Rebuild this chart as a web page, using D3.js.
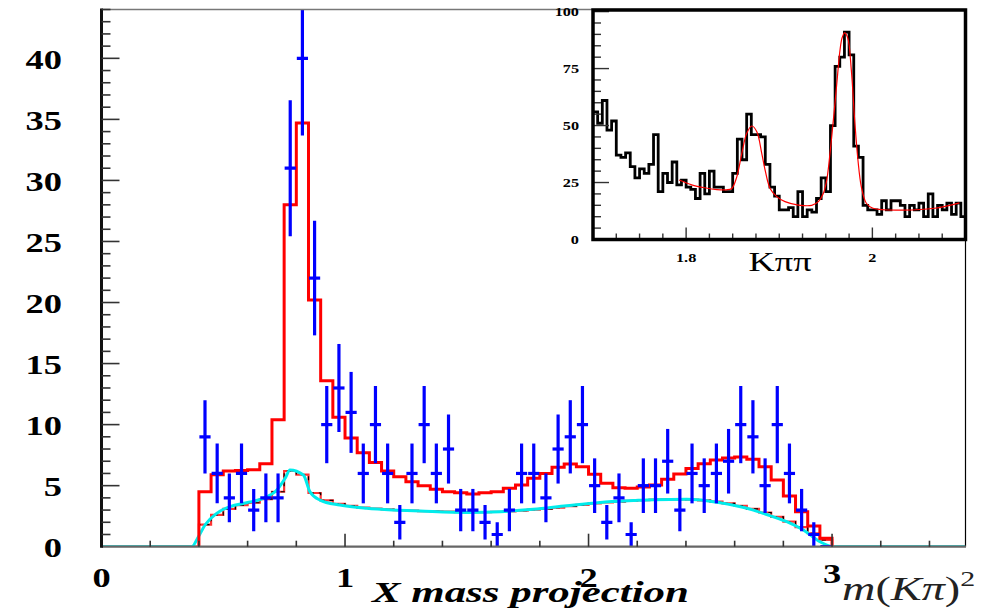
<!DOCTYPE html>
<html>
<head>
<meta charset="utf-8">
<script src="https://cdnjs.cloudflare.com/ajax/libs/d3/7.8.5/d3.min.js"></script>
<style>
  body { margin: 0; background: #fff; }
  svg { display: block; }
</style>
</head>
<body>
<script>
// --- main projection: 0.05-wide bins starting at 0.40 ---
var binStart = 0.40, binWidth = 0.05;

// measured entries per bin
var dataCounts = [9, 6, 4, 6, 3, 4, 4, 31, 40, 22,
                  10, 13, 11, 6, 10, 6, 2, 6, 10, 6,
                  8, 3, 3, 2, 1, 3, 6, 6, 4, 8,
                  9, 10, 5, 2, 4, 1, 5, 5, 7, 3,
                  6, 5, 6, 7, 10, 9, 5, 10, 6, 3,
                  1, 0];

// total fit, histogrammed in the same bins
var fitTotal = [4.5, 5.9, 6.2, 6.25, 6.3, 6.8, 10.4, 28.0, 34.7, 20.2,
                13.6, 10.6, 8.9, 7.7, 6.9, 6.2, 5.73, 5.32, 5.0, 4.7,
                4.5, 4.42, 4.32, 4.42, 4.5, 4.78, 5.05, 5.6, 6.0, 6.5,
                6.77, 6.55, 5.93, 5.19, 4.83, 4.78, 4.9, 5.05, 5.52, 5.95,
                6.4, 6.8, 7.1, 7.27, 7.35, 7.17, 6.55, 5.46, 4.15, 2.87,
                1.7, 0.69];

// background component, histogrammed
var fitBkg = [1.8, 2.6, 3.1, 3.4, 3.6, 3.9, 4.5, 6.2, 5.9, 4.4,
              3.8, 3.5, 3.35, 3.2, 3.12, 3.05, 3.0, 2.96, 2.92, 2.9,
              2.87, 2.84, 2.82, 2.83, 2.85, 2.9, 2.96, 3.03, 3.1, 3.2,
              3.32, 3.42, 3.55, 3.62, 3.7, 3.76, 3.82, 3.85, 3.87, 3.88,
              3.86, 3.8, 3.7, 3.55, 3.35, 3.1, 2.8, 2.45, 2.05, 1.6,
              1.1, 0.55];

// background shape as a smooth curve (mass^2, value)
var bkgCurveX = [0, 0.37, 0.398, 0.425, 0.473, 0.528, 0.596, 0.664, 0.72, 0.754,
                 0.774, 0.829, 0.856, 0.897, 0.979, 1.089, 1.198, 1.308, 1.5, 1.637,
                 1.773, 1.91, 2.047, 2.184, 2.266, 2.403, 2.54, 2.677, 2.745, 2.814,
                 2.882, 2.95, 3.005, 3.55];
var bkgCurveY = [0, 0, 0.82, 1.78, 2.73, 3.28, 3.6, 3.96, 4.64, 5.6,
                 6.28, 5.87, 4.5, 3.82, 3.41, 3.14, 3.0, 2.92, 2.81, 2.87,
                 3.06, 3.36, 3.63, 3.78, 3.85, 3.88, 3.6, 3.0, 2.54, 2.05,
                 1.37, 0.41, 0, 0];

var xTickLabels = ["0", "1", "2", "3"];
var yTickLabels = ["0", "5", "10", "15", "20", "25", "30", "35", "40"];

// --- inset: K pi pi mass, 0.005-wide bins from 1.70 ---
var insetStart = 1.70, insetWidth = 0.005;
var insetCounts = [56, 51, 61, 48, 52, 37, 36, 38, 32, 27,
                   31, 29, 33, 46, 21, 29, 25, 34, 24, 26,
                   23, 22, 18, 29, 20, 30, 23, 23, 21, 21,
                   29, 44, 35, 55, 46, 46, 45, 33, 23, 19,
                   13, 13, 14, 10, 21, 10, 13, 12, 18, 27,
                   21, 50, 76, 80, 91, 81, 41, 36, 15, 13,
                   13, 11, 17, 13, 17, 17, 15, 10, 15, 13,
                   16, 10, 20, 10, 15, 13, 16, 11, 16, 10];
var insetFitX = [1.7925, 1.806, 1.82, 1.833, 1.843, 1.849, 1.8544, 1.8598, 1.8651, 1.8705,
                 1.8759, 1.8812, 1.8848, 1.8902, 1.8973, 1.9062, 1.9206, 1.9349, 1.942, 1.9474,
                 1.951, 1.9545, 1.9581, 1.9617, 1.9652, 1.9675, 1.9702, 1.9735, 1.9774, 1.981,
                 1.9845, 1.9881, 1.9935, 2.0006, 2.031, 2.0667, 2.0935];
var insetFitY = [26.1, 24.0, 22.7, 21.9, 21.8, 22.4, 27.5, 37.8, 46.6, 49.8,
                 47.3, 37.8, 30.5, 22.4, 18.8, 16.6, 15.1, 15.0, 16.6, 20.3,
                 26.1, 37.8, 52.4, 68.0, 83.0, 88.5, 90.7, 88.5, 74.3, 52.4,
                 34.9, 23.2, 15.9, 13.7, 12.9, 13.7, 16.1];
var insetYLabels = ["0", "25", "50", "75", "100"];
var insetXLabels = ["1.8", "2"];

var W = 983, H = 613;
var svg = d3.select("body").append("svg").attr("width", W).attr("height", H);

var x = d3.scaleLinear().domain([0, 3.55]).range([101.5, 966]);
var y = d3.scaleLinear().domain([0, 44]).range([546.7, 9.5]);

svg.append("clipPath").attr("id", "plotClip")
    .append("rect")
    .attr("x", x(0)).attr("y", y(44))
    .attr("width", x(3.55) - x(0)).attr("height", y(0) - y(44));

// turn a list of bin contents into step vertices
function stepPoints(values, start, width, closeToZero) {
    var pts = [];
    if (closeToZero) pts.push([start, 0]);
    values.forEach(function(v, i) {
        pts.push([start + i * width, v]);
        pts.push([start + (i + 1) * width, v]);
    });
    if (closeToZero) pts.push([start + values.length * width, 0]);
    return pts;
}

var plot = svg.append("g").attr("clip-path", "url(#plotClip)");
var line = d3.line().x(function(d) { return x(d[0]); }).y(function(d) { return y(d[1]); });

// background histogram (red) with a dashed black copy on top, zero outside the fit range
var bkgPts = [[0, 0]].concat(stepPoints(fitBkg, binStart, binWidth, true)).concat([[3.55, 0]]);
plot.append("path").attr("d", line(bkgPts))
    .attr("fill", "none").attr("stroke", "#f33").attr("stroke-width", 2.2);
plot.append("path").attr("d", line(bkgPts))
    .attr("fill", "none").attr("stroke", "#000").attr("stroke-width", 1.2)
    .attr("stroke-dasharray", "4,5");

// smooth background curve
var bkgCurve = bkgCurveX.map(function(v, i) { return [v, bkgCurveY[i]]; });
plot.append("path")
    .attr("d", d3.line().x(function(d) { return x(d[0]); }).y(function(d) { return y(d[1]); })
        .curve(d3.curveMonotoneX)(bkgCurve))
    .attr("fill", "none").attr("stroke", "#00ecec").attr("stroke-width", 3);

// total fit histogram
plot.append("path").attr("d", line(stepPoints(fitTotal, binStart, binWidth, true)))
    .attr("fill", "none").attr("stroke", "#ff0000").attr("stroke-width", 3);

// data points with sqrt(N) errors
var pts = plot.append("g").attr("stroke", "#0000ff").attr("stroke-width", 3.2);
dataCounts.forEach(function(n, i) {
    var lo = binStart + i * binWidth, c = lo + binWidth / 2, e = Math.sqrt(n);
    pts.append("line")
        .attr("x1", x(lo) + 0.5).attr("x2", x(lo + binWidth) - 0.5)
        .attr("y1", y(n)).attr("y2", y(n));
    if (n > 0) {
        pts.append("line")
            .attr("x1", x(c)).attr("x2", x(c))
            .attr("y1", y(n - e)).attr("y2", y(n + e));
    }
});

// frame
svg.append("line").attr("x1", x(0)).attr("x2", x(3.55)).attr("y1", y(44)).attr("y2", y(44))
    .attr("stroke", "#777").attr("stroke-width", 1.5);
svg.append("line").attr("x1", x(3.55) - 0.5).attr("x2", x(3.55) - 0.5).attr("y1", y(44)).attr("y2", y(0))
    .attr("stroke", "#000").attr("stroke-width", 1.2);
svg.append("line").attr("x1", x(0)).attr("x2", x(3.55)).attr("y1", y(0)).attr("y2", y(0))
    .attr("stroke", "#666").attr("stroke-width", 2.2);
svg.append("line").attr("x1", x(0)).attr("x2", x(0)).attr("y1", y(44) - 1).attr("y2", y(0) + 1)
    .attr("stroke", "#111").attr("stroke-width", 3);

// ticks
var ax = svg.append("g").attr("stroke", "#333").attr("stroke-width", 1.6);
d3.range(1, 45).forEach(function(v) {
    var len = v % 5 === 0 ? 18 : 9;
    ax.append("line").attr("x1", x(0)).attr("x2", x(0) + len).attr("y1", y(v)).attr("y2", y(v));
});
d3.range(1, 18).forEach(function(k) {
    var v = k * 0.2, len = k % 5 === 0 ? 13 : 6;
    ax.append("line").attr("x1", x(v)).attr("x2", x(v)).attr("y1", y(0)).attr("y2", y(0) - len);
});

// stretched serif text helper
function txt(g, px, py, s, size, opts) {
    opts = opts || {};
    return g.append("text")
        .attr("transform", "translate(" + px + "," + py + ") scale(" + (opts.sx || 1.35) + ",1)")
        .attr("text-anchor", opts.anchor || "middle")
        .attr("dominant-baseline", opts.baseline || "central")
        .attr("font-family", "'Liberation Serif', 'DejaVu Serif', serif")
        .attr("font-weight", opts.weight || "bold")
        .attr("font-style", opts.style || "normal")
        .attr("font-size", size)
        .attr("fill", "#000")
        .text(s);
}

var labels = svg.append("g");
yTickLabels.forEach(function(s) {
    txt(labels, 62, y(+s) + 1, s, 27, { anchor: "end" });
});
xTickLabels.forEach(function(s) {
    txt(labels, x(+s), s === "3" ? 574 : 578, s, 27);
});
txt(labels, 372, 602, "X mass projection", 30, { anchor: "start", style: "italic", baseline: "alphabetic", sx: 1.43 });

var axisTitle = labels.append("text")
    .attr("transform", "translate(842,600) scale(1.36,1)")
    .attr("font-family", "'Liberation Serif', serif")
    .attr("font-size", 34).attr("fill", "#222");
axisTitle.append("tspan").attr("font-style", "italic").text("m");
axisTitle.append("tspan").text("(");
axisTitle.append("tspan").attr("font-style", "italic").text("K");
axisTitle.append("tspan").attr("font-style", "italic").text("π");
axisTitle.append("tspan").text(")");
axisTitle.append("tspan").attr("font-size", 22).attr("dy", -14).text("2");

// --- inset ---
var xi = d3.scaleLinear().domain([1.7, 2.1]).range([593, 965.5]);
var yi = d3.scaleLinear().domain([0, 100.7]).range([239.5, 10]);
var inset = svg.append("g");
inset.append("rect").attr("x", xi(1.7)).attr("y", yi(100.7))
    .attr("width", xi(2.1) - xi(1.7)).attr("height", yi(0) - yi(100.7))
    .attr("fill", "#fff");

svg.append("clipPath").attr("id", "insetClip")
    .append("rect").attr("x", xi(1.7)).attr("y", yi(100.7))
    .attr("width", xi(2.1) - xi(1.7)).attr("height", yi(0) - yi(100.7));

var iline = d3.line().x(function(d) { return xi(d[0]); }).y(function(d) { return yi(d[1]); });
var ig = inset.append("g").attr("clip-path", "url(#insetClip)");
ig.append("path").attr("d", iline(stepPoints(insetCounts, insetStart, insetWidth, false)))
    .attr("fill", "none").attr("stroke", "#000").attr("stroke-width", 2.8);
var insetFit = insetFitX.map(function(v, i) { return [v, insetFitY[i]]; });
ig.append("path").attr("d", iline.curve(d3.curveCatmullRom.alpha(0.5))(insetFit))
    .attr("fill", "none").attr("stroke", "#ff0000").attr("stroke-width", 1.2);

var iax = inset.append("g").attr("stroke", "#333").attr("stroke-width", 1.4);
d3.range(5, 101, 5).forEach(function(v) {
    var len = v % 25 === 0 ? 16 : 8;
    iax.append("line").attr("x1", xi(1.7)).attr("x2", xi(1.7) + len).attr("y1", yi(v)).attr("y2", yi(v));
});
d3.range(1, 16).forEach(function(k) {
    var v = 1.7 + k * 0.025, len = (k === 4 || k === 12) ? 12 : 6;
    iax.append("line").attr("x1", xi(v)).attr("x2", xi(v)).attr("y1", yi(0)).attr("y2", yi(0) - len);
});
inset.append("rect").attr("x", xi(1.7)).attr("y", yi(100.7))
    .attr("width", xi(2.1) - xi(1.7)).attr("height", yi(0) - yi(100.7))
    .attr("fill", "none").attr("stroke", "#000").attr("stroke-width", 3.5);

insetYLabels.forEach(function(s) {
    txt(inset, 579, yi(+s), s, 13, { anchor: "end", sx: 1.25 });
});
insetXLabels.forEach(function(s) {
    txt(inset, xi(+s), 258, s, 13, { sx: 1.25 });
});
txt(inset, 780, 262, "Kππ", 28, { weight: "normal", sx: 1.3 });
</script>
</body>
</html>
